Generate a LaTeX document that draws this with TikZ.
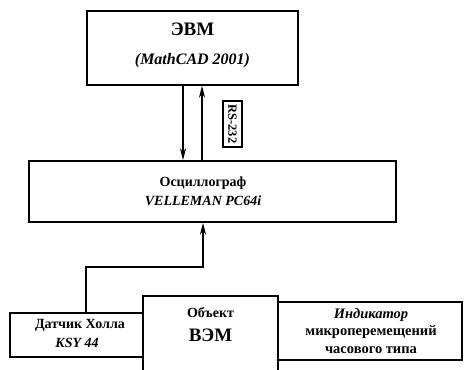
\documentclass[tikz,border=0pt]{standalone}
\usepackage{fontspec}
\setmainfont{Liberation Serif}
\usetikzlibrary{arrows.meta}
\tikzset{
  box/.style={draw, line width=1.5pt, rectangle, inner sep=0pt, align=center},
  arr/.style={line width=1.5pt, -{Stealth[length=12pt,width=6pt]}},
  ln/.style={line width=1.5pt},
}
\begin{document}
\begin{tikzpicture}[x=1pt,y=-1pt]
\useasboundingbox (0,0) rectangle (464,370);
% top computer box
\node[box, minimum width=211pt, minimum height=74pt] (evm) at (192.5,48) {};
\node[font=\fontsize{19}{22}\selectfont\bfseries] (evmt) at (192.5,29) {ЭВМ};
\node[font=\fontsize{16}{19}\selectfont\bfseries\itshape] (evms) at (192.5,61) {(MathCAD 2001)};
% oscillograph
\node[box, minimum width=367pt, minimum height=61pt] (osc) at (212.5,191.5) {};
\node[font=\fontsize{14}{17}\selectfont\bfseries] (osct) at (203,183) {Осциллограф};
\node[font=\fontsize{14}{17}\selectfont\bfseries\itshape] (oscs) at (203,201) {VELLEMAN PC64i};
% arrows between computer and oscillograph
\coordinate (xa) at (183,0);
\coordinate (xb) at (202,0);
\draw[arr] (evm.south -| xa) -- (osc.north -| xa);
\draw[arr] (osc.north -| xb) -- (evm.south -| xb);
\node[draw, line width=1.2pt, rotate=-90, inner sep=1pt, minimum width=46pt, minimum height=19pt,
      font=\fontsize{12.5}{14}\selectfont\bfseries] (rs) at (232.5,124) {RS-232};
% Hall sensor
\node[box, minimum width=133pt, minimum height=44pt] (hall) at (76.5,335) {};
\node[font=\fontsize{14}{17}\selectfont\bfseries] (hallt) at (80,325) {Датчик Холла};
\node[font=\fontsize{14}{17}\selectfont\bfseries\itshape] (halls) at (77,343) {KSY 44};
% object box (open at bottom)
\node[minimum width=135pt, minimum height=74pt, inner sep=0pt] (obj) at (210.5,333) {};
\draw[ln] (obj.south west) -- (obj.north west) -- (obj.north east) -- (obj.south east);
\node[font=\fontsize{14}{17}\selectfont\bfseries] (objt) at (210.5,313) {Объект};
\node[font=\fontsize{19}{22}\selectfont\bfseries] (objs) at (210.5,335) {ВЭМ};
% indicator
\node[box, minimum width=184pt, minimum height=58pt] (ind) at (370,331) {};
\node[font=\fontsize{14.5}{17.5}\selectfont\bfseries, align=center] (indt) at (371,331)
  {\textit{Индикатор}\\[0pt]микроперемещений\\[0pt]часового типа};
% feedback from Hall sensor
\coordinate (xh) at (86,0);
\coordinate (k) at (203,267);
\draw[arr] (hall.north -| xh) |- (k) -- (osc.south -| k);
\end{tikzpicture}
\end{document}
